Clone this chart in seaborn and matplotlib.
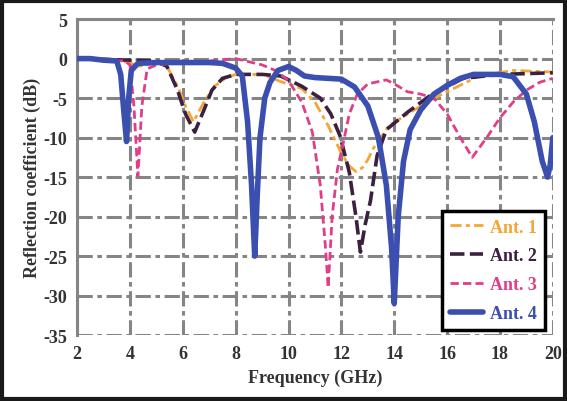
import numpy as np
import pandas as pd
import matplotlib
matplotlib.use("Agg")
import matplotlib.pyplot as plt
from matplotlib.patches import Rectangle
import seaborn as sns

# ---- data ----
f_ant1 = [2, 3.5, 4.0, 4.3, 5.0, 5.4, 5.8, 6.1, 6.4, 6.8, 7.2, 7.6, 8.0, 9.0, 9.7, 10.5, 11.0, 11.5, 12.0, 12.3, 12.55, 12.8, 13.0, 13.2, 13.8, 14.7, 15.7, 17.2, 18.5, 20.0]
s_ant1 = [0, -0.2, -0.5, -1.0, -0.5, -1.0, -3.5, -6.0, -8.0, -5.5, -3.5, -2.5, -2.0, -2.0, -2.9, -3.8, -5.5, -8.5, -12.0, -13.6, -14.3, -13.8, -12.8, -11.4, -8.5, -6.6, -4.7, -2.2, -1.5, -1.7]

f_ant2 = [2, 5.0, 5.4, 5.8, 6.1, 6.45, 6.8, 7.1, 7.5, 8.0, 9.0, 9.7, 10.5, 11.2, 11.6, 11.95, 12.3, 12.55, 12.72, 12.9, 13.1, 13.35, 13.7, 14.5, 15.35, 16.6, 18.0, 20.0]
s_ant2 = [0, -0.3, -1.0, -4.0, -7.0, -9.3, -6.5, -4.0, -2.5, -2.0, -2.0, -2.2, -3.5, -5.0, -7.0, -9.8, -14.4, -20.0, -24.5, -21.0, -18.0, -12.3, -9.0, -6.8, -4.7, -2.5, -2.0, -1.8]

f_ant3 = [2, 3.8, 4.0, 4.15, 4.3, 4.45, 4.65, 5.0, 6.0, 7.0, 8.0, 9.0, 9.5, 10.0, 10.5, 10.9, 11.2, 11.4, 11.5, 11.65, 11.85, 12.05, 12.3, 12.6, 13.0, 13.7, 14.0, 14.5, 15.0, 15.5, 16.0, 16.5, 16.95, 17.5, 18.0, 18.5, 19.0, 19.5, 20.0]
s_ant3 = [0, -0.3, -0.8, -6.0, -14.9, -6.0, -1.3, -0.8, -0.5, -0.3, 0.0, -0.8, -1.5, -2.8, -5.5, -9.3, -16.0, -24.0, -29.0, -20.0, -14.0, -11.0, -7.0, -4.5, -3.2, -2.7, -3.2, -4.2, -4.5, -5.0, -7.0, -10.0, -12.5, -10.0, -7.5, -5.5, -4.0, -3.0, -2.5]

f_ant4 = [2, 2.5, 3.0, 3.5, 3.65, 3.75, 3.87, 3.95, 4.05, 4.3, 5.0, 6.0, 7.0, 7.5, 8.0, 8.25, 8.45, 8.6, 8.72, 8.82, 8.92, 9.1, 9.3, 9.6, 10.0, 10.3, 10.6, 11.0, 11.5, 12.0, 12.5, 13.0, 13.4, 13.7, 13.9, 14.0, 14.15, 14.35, 14.6, 15.0, 15.5, 16.0, 16.5, 17.0, 18.0, 18.5, 19.0, 19.3, 19.6, 19.8, 19.9, 20.0]
s_ant4 = [0, 0, -0.2, -0.3, -2.0, -6.0, -10.5, -5.0, -1.5, -0.6, -0.5, -0.5, -0.5, -0.6, -1.2, -2.2, -8.0, -16.0, -25.0, -17.0, -10.0, -5.0, -3.0, -1.5, -1.0, -1.5, -2.2, -2.4, -2.5, -2.6, -3.6, -6.0, -10.0, -16.0, -24.0, -31.0, -20.0, -13.0, -9.0, -6.5, -4.5, -3.4, -2.5, -2.0, -2.0, -2.3, -4.5, -8.0, -13.0, -15.0, -13.5, -10.0]

labels = ["Ant. 1", "Ant. 2", "Ant. 3", "Ant. 4"]
x_ticks = [2, 4, 6, 8, 10, 12, 14, 16, 18, 20]
y_ticks = [5, 0, -5, -10, -15, -20, -25, -30, -35]

# ---- styling ----
sns.set_style("white")
plt.rcParams["font.family"] = ["Liberation Serif", "DejaVu Serif"]
plt.rcParams["font.weight"] = "bold"
plt.rcParams["axes.unicode_minus"] = False

colors = ["#f2a735", "#3b2040", "#e23d88", "#3b4fb0"]
widths = [2.0, 2.6, 2.0, 4.0]
styles = [(0, (4, 1.5, 1.5, 1.5)), (0, (4, 1.5)), (0, (3, 1.5)), "-"]

fig = plt.figure(figsize=(5.67, 4.02), dpi=100)
ax = fig.add_axes([0.136, 0.164, 0.839, 0.786])

series = [(f_ant1, s_ant1), (f_ant2, s_ant2), (f_ant3, s_ant3), (f_ant4, s_ant4)]
for (fx, sy), lab, c, w, ls in zip(series, labels, colors, widths, styles):
    df = pd.DataFrame({"Frequency": fx, "S11": sy})
    sns.lineplot(data=df, x="Frequency", y="S11", ax=ax, color=c, lw=w,
                 linestyle=ls, label=lab, sort=False, estimator=None, zorder=3)

ax.set_xlim(2, 20)
ax.set_ylim(-35, 5)
ax.set_xticks(x_ticks)
ax.set_yticks(y_ticks)
ax.set_yticklabels([str(v) for v in y_ticks])
ax.tick_params(axis="both", labelsize=13, length=3, color="#888888", width=1.5, pad=4)
for t in ax.get_xticklabels() + ax.get_yticklabels():
    t.set_fontweight("bold")
    t.set_color("#333333")

ax.grid(True, color="#858585", lw=2.2, linestyle=(0, (5, 1.5, 1.5, 1.5)), zorder=1)
ax.set_axisbelow(True)

for side in ["left", "top"]:
    ax.spines[side].set_color("#858585")
    ax.spines[side].set_linewidth(2.2)
for side in ["right", "bottom"]:
    ax.spines[side].set_visible(False)

ax.set_xlabel("Frequency (GHz)", fontsize=13, fontweight="bold", color="#333333", labelpad=5)
ax.set_ylabel("Reflection coefficient (dB)", fontsize=13, fontweight="bold", color="#333333", labelpad=2)

leg = ax.legend(loc="lower right", bbox_to_anchor=(0.983, 0.016), borderaxespad=0,
                frameon=True, fancybox=False, edgecolor="black", fontsize=13,
                handlelength=1.8, borderpad=0.45, labelspacing=0.65, handletextpad=0.4)
leg.get_frame().set_linewidth(2.5)
leg.get_frame().set_facecolor("white")
leg.get_frame().set_alpha(1)
for txt, c in zip(leg.get_texts(), colors):
    txt.set_color(c)
    txt.set_fontweight("bold")

fig.patches.append(Rectangle((0.004, 0.005), 0.992, 0.99, transform=fig.transFigure,
                             fill=False, edgecolor="#1a1a1a", lw=3))

fig.savefig("out.png", dpi=100)
